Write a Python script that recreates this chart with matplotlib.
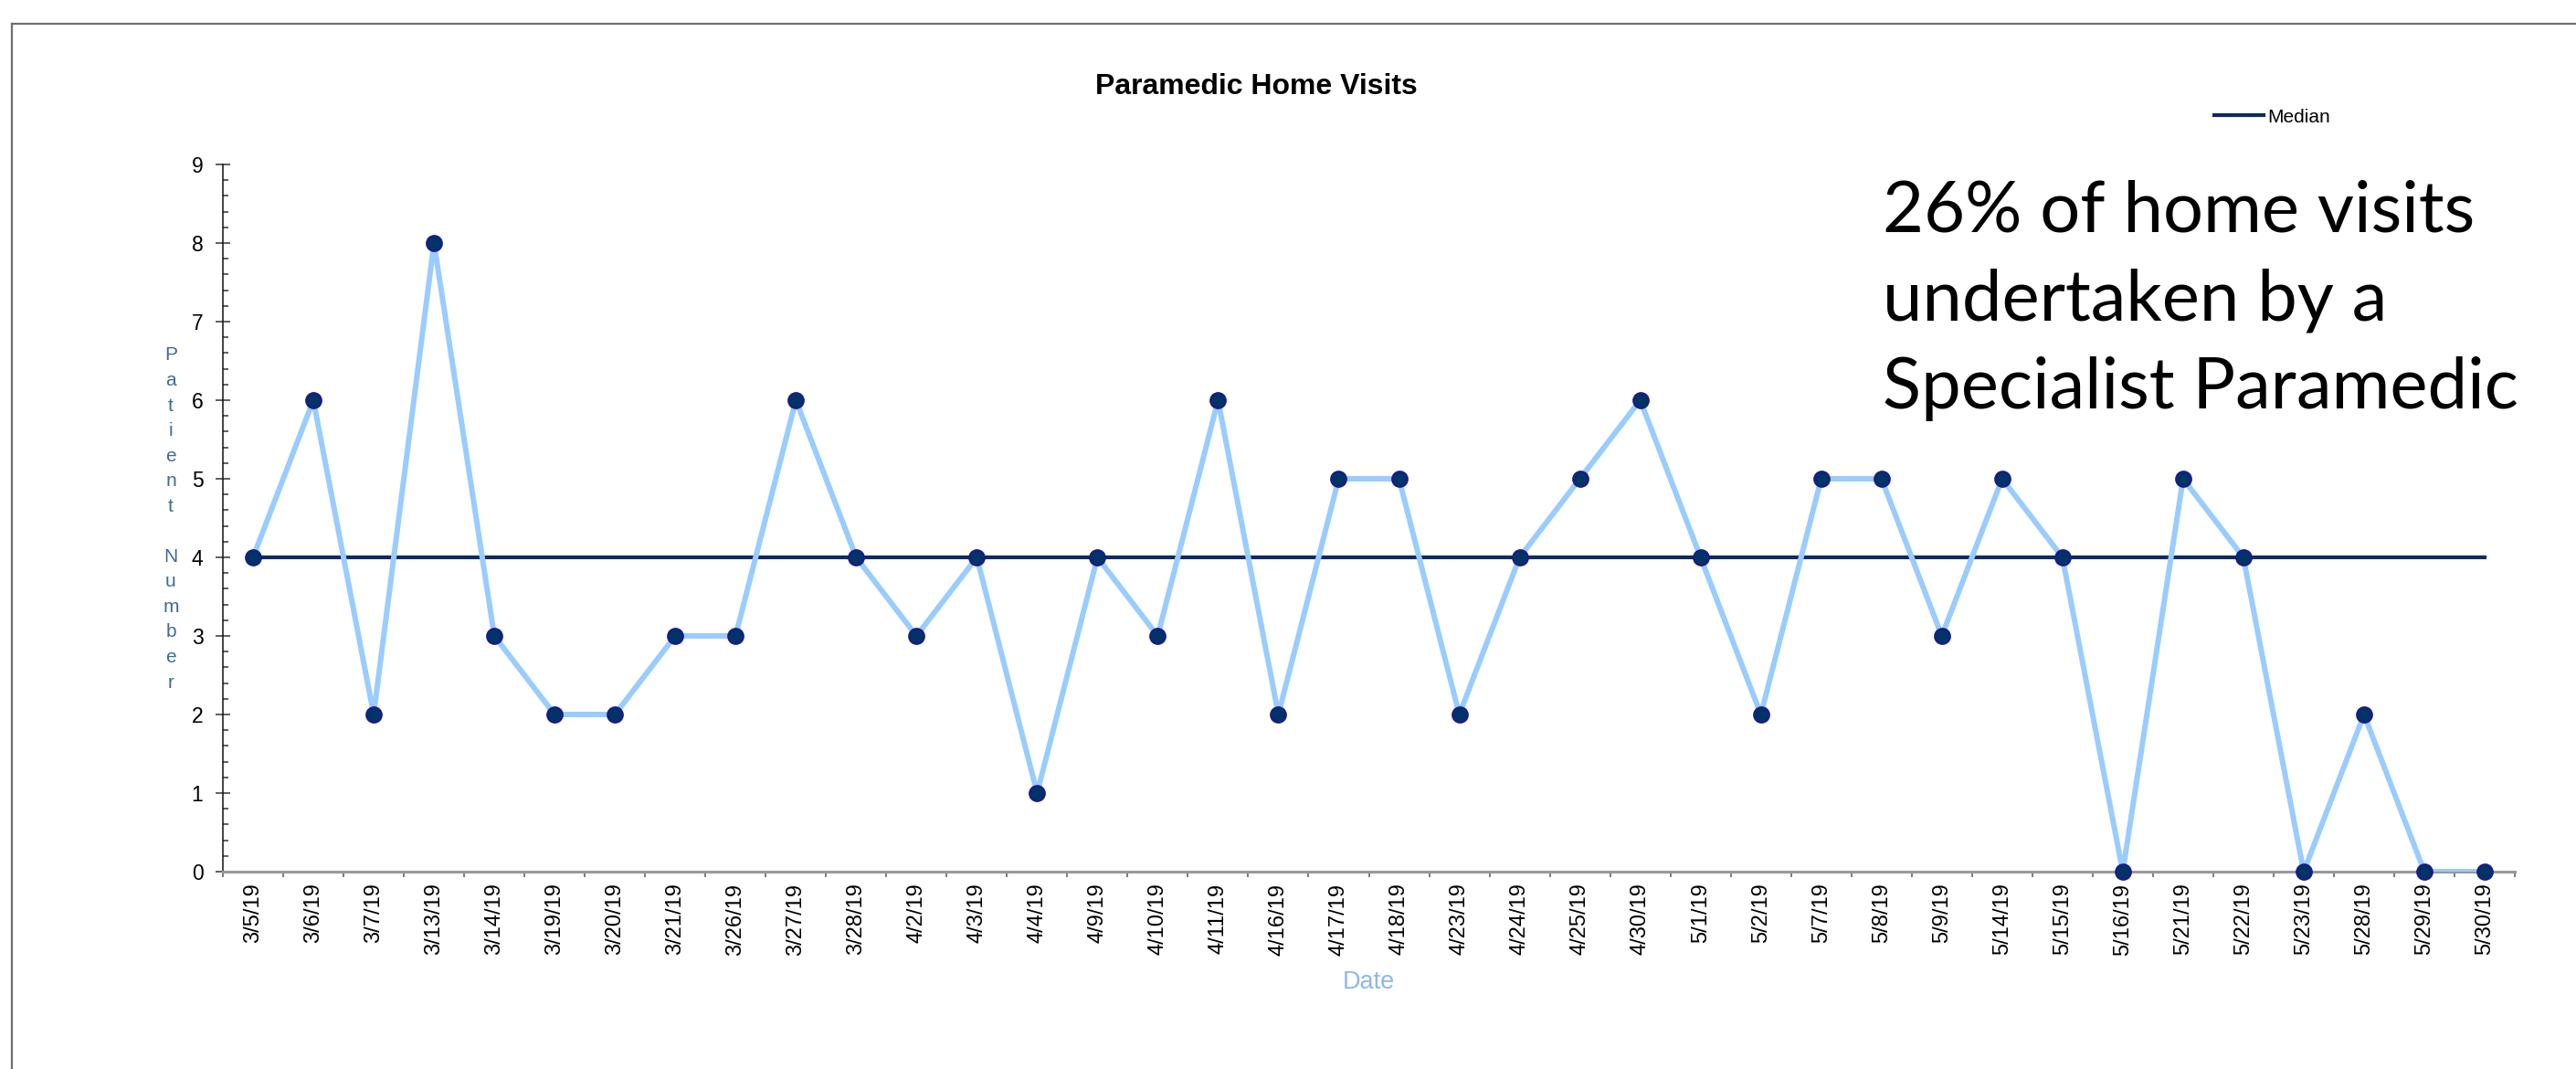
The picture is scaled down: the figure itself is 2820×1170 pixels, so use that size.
import matplotlib
matplotlib.use('Agg')
import matplotlib.pyplot as plt
import numpy as np

dates = ['3/5/19', '3/6/19', '3/7/19', '3/13/19', '3/14/19', '3/19/19', '3/20/19',
         '3/21/19', '3/26/19', '3/27/19', '3/28/19', '4/2/19', '4/3/19', '4/4/19',
         '4/9/19', '4/10/19', '4/11/19', '4/16/19', '4/17/19', '4/18/19', '4/23/19',
         '4/24/19', '4/25/19', '4/30/19', '5/1/19', '5/2/19', '5/7/19', '5/8/19',
         '5/9/19', '5/14/19', '5/15/19', '5/16/19', '5/21/19', '5/22/19', '5/23/19',
         '5/28/19', '5/29/19', '5/30/19']
visits = [4, 6, 2, 8, 3, 2, 2, 3, 3, 6, 4, 3, 4, 1, 4, 3, 6, 2, 5, 5, 2, 4, 5, 6,
          4, 2, 5, 5, 3, 5, 4, 0, 5, 4, 0, 2, 0, 0]
median = np.median(visits)
note = '26% of home visits\nundertaken by a\nSpecialist Paramedic'

plt.rcParams['font.family'] = ['Liberation Sans', 'DejaVu Sans']

fig = plt.figure(figsize=(28.2, 11.7), dpi=100)
ax = fig.add_axes([244 / 2820, 1 - 954 / 1170, (2753 - 244) / 2820, (954 - 180) / 1170])

x = np.arange(len(dates))

# median line first, data on top
med_line, = ax.plot([x[0], x[-1]], [median, median], color='#0d2a66', lw=3, zorder=2,
                    label='Median')
ax.plot(x, visits, color='#99ccff', lw=4.3, zorder=3)
ax.plot(x, visits, ls='none', marker='o', ms=12, mfc='#003366', mec='#1a1a8c', mew=1.5,
        zorder=4, clip_on=False)

ax.set_xlim(-0.5, len(dates) - 0.5)
ax.set_ylim(0, 9)

# x axis: labels on categories, ticks on boundaries
ax.set_xticks(x)
ax.set_xticklabels(dates, rotation=90, fontsize=17, va='top')
ax.set_xticks(np.arange(len(dates) + 1) - 0.5, minor=True)
ax.tick_params(axis='x', which='major', length=0, pad=9)
ax.tick_params(axis='x', which='minor', direction='out', length=4.5, width=1.2,
               color='#666666')

ax.set_yticks(range(0, 10))
ax.set_yticks(np.arange(0, 9.01, 0.2), minor=True)
ax.tick_params(axis='y', which='major', direction='inout', length=11, width=1.2,
               color='#444444', labelsize=16.5, pad=10)
ax.tick_params(axis='y', which='minor', direction='in', length=4, width=1.2,
               color='#444444')

for s in ['top', 'right']:
    ax.spines[s].set_visible(False)
ax.spines['left'].set_color('#111111')
ax.spines['left'].set_linewidth(1.1)
ax.spines['bottom'].set_color('#999999')
ax.spines['bottom'].set_linewidth(2.2)

# stacked y label
fig.text(187 / 2820, 1 - 568 / 1170, '\n'.join('Patient Number'), ha='center',
         va='center', fontsize=15, color='#3f6aa0', linespacing=1.57)
ax.set_xlabel('Date', fontsize=19.5, color='#8fb8ea', labelpad=12)

fig.text(1375 / 2820, 1 - 95 / 1170, 'Paramedic Home Visits', ha='center', va='center',
         fontsize=23, fontweight='bold')

fig.legend(handles=[med_line], loc='center left', frameon=False, fontsize=15,
           bbox_to_anchor=(2424 / 2820, 1 - 128 / 1170), borderpad=0, borderaxespad=0,
           handlelength=2.6, handletextpad=0.2)

fig.text(2061 / 2820, 1 - 196 / 1170, note, ha='left', va='top', fontsize=56,
         family=['Lato', 'DejaVu Sans'], linespacing=1.46)

# outer frame (only top and left edges visible in the crop)
fig.add_artist(plt.Line2D([13 / 2820, 1], [1 - 26 / 1170, 1 - 26 / 1170],
                          transform=fig.transFigure, color='#6e6e6e', lw=1.6))
fig.add_artist(plt.Line2D([13 / 2820, 13 / 2820], [0, 1 - 26 / 1170],
                          transform=fig.transFigure, color='#6e6e6e', lw=1.6))

fig.savefig('out.png', dpi=100)
